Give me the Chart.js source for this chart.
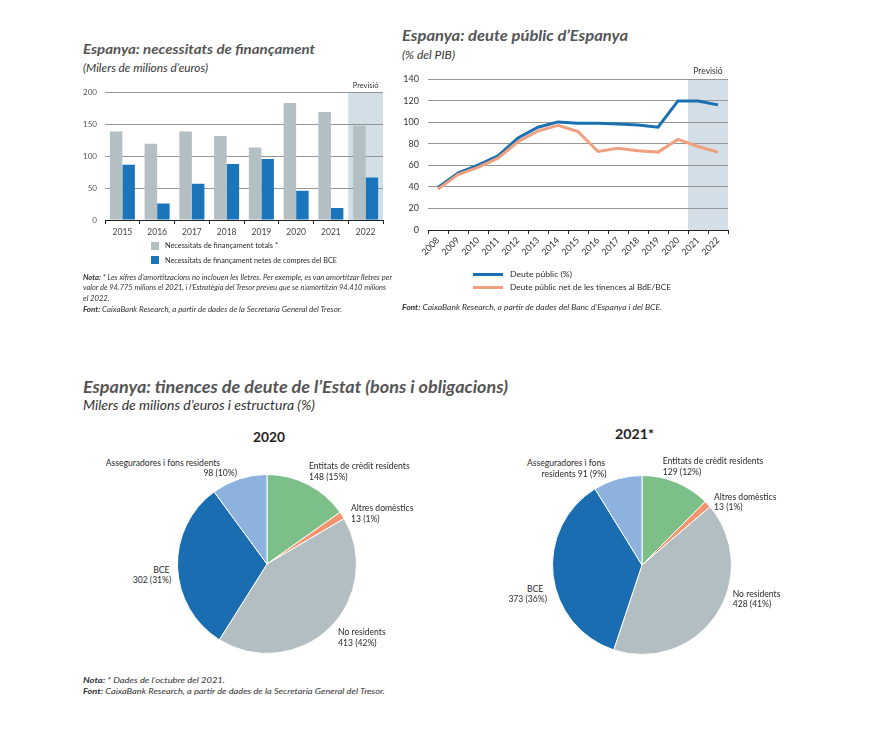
<!DOCTYPE html>
<html><head><meta charset="utf-8">
<script src="https://cdn.jsdelivr.net/npm/chart.js@4.4.0/dist/chart.umd.min.js"></script>
<style>
body{margin:0;background:#fff;width:872px;height:731px;position:relative;overflow:hidden;font-family:Lato,"Noto Sans",sans-serif;}
.a{position:absolute;white-space:nowrap;line-height:1;transform-origin:0 50%;}
.t{font-weight:bold;font-style:italic;color:#555;}
.s{font-style:italic;color:#333;}
.n{font-style:italic;font-size:7.6px;color:#333;}
.n b{font-weight:bold;}
.lab{font-size:8.6px;color:#2a2a2a;}
.pt{font-weight:bold;font-size:13px;color:#222;}
canvas{position:absolute;}
.sq{position:absolute;width:8px;height:8px;}
.ln{position:absolute;width:30px;height:3px;}
</style></head><body>

<!-- Chart 1 texts -->
<div class="a t" style="left:83px;top:42px;font-size:14px" data-w="232">Espanya: necessitats de finançament</div>
<div class="a s" style="left:83px;top:61.5px;font-size:11px" data-w="125">(Milers de milions d’euros)</div>
<canvas id="c1" width="330" height="165" style="left:60px;top:80px;width:330px;height:165px"></canvas>
<div class="sq" style="left:151px;top:242px;background:#b4bfc4"></div>
<div class="a lab" style="left:165px;top:242px;font-size:7.8px" data-w="113">Necessitats de finançament totals *</div>
<div class="sq" style="left:151px;top:256px;background:#1b75bb"></div>
<div class="a lab" style="left:165px;top:256.5px;font-size:7.8px" data-w="172">Necessitats de finançament netes de compres del BCE</div>
<div class="a n" style="left:83px;top:273.5px" data-w="309"><b>Nota:</b> * Les xifres d’amortitzacions no inclouen les lletres. Per exemple, es van amortitzar lletres per</div>
<div class="a n" style="left:83px;top:284px" data-w="303">valor de 94.775 milions el 2021, i l’Estratègia del Tresor preveu que se n’amortitzin 94.410 milions</div>
<div class="a n" style="left:83px;top:294.5px">el 2022.</div>
<div class="a n" style="left:83px;top:305.5px" data-w="259"><b>Font:</b> CaixaBank Research, a partir de dades de la Secretaria General del Tresor.</div>

<!-- Chart 2 texts -->
<div class="a t" style="left:402px;top:29px;font-size:14.5px" data-w="226">Espanya: deute públic d’Espanya</div>
<div class="a s" style="left:402px;top:49px;font-size:11px" data-w="53">(% del PIB)</div>
<canvas id="c2" width="345" height="200" style="left:390px;top:65px;width:345px;height:200px"></canvas>
<div class="ln" style="left:473px;top:272.5px;background:#1a70b0"></div>
<div class="a lab" style="left:510px;top:270px;font-size:8.4px" data-w="62">Deute públic (%)</div>
<div class="ln" style="left:473px;top:285.5px;background:#f0a07e"></div>
<div class="a lab" style="left:510px;top:283px;font-size:8.4px" data-w="161">Deute públic net de les tinences al BdE/BCE</div>
<div class="a n" style="left:402px;top:304px;font-size:7.8px" data-w="260"><b>Font:</b> CaixaBank Research, a partir de dades del Banc d’Espanya i del BCE.</div>

<!-- Pies texts -->
<div class="a t" style="left:83px;top:377.5px;font-size:17px" data-w="425">Espanya: tinences de deute de l’Estat (bons i obligacions)</div>
<div class="a s" style="left:83px;top:400px;font-size:12.5px" data-w="232">Milers de milions d’euros i estructura (%)</div>
<div class="a pt" style="left:253px;top:431px" data-w="32">2020</div>
<div class="a pt" style="left:615px;top:427.5px" data-w="39">2021*</div>
<canvas id="p1" width="180" height="180" style="left:177px;top:474px;width:180px;height:180px"></canvas>
<canvas id="p2" width="180" height="180" style="left:552px;top:475px;width:180px;height:180px"></canvas>
<div id="labels"></div>
<div class="a n" style="left:83px;top:676px;font-size:8.2px" data-w="142"><b>Nota:</b> * Dades de l’octubre del 2021.</div>
<div class="a n" style="left:83px;top:686.5px;font-size:8.2px" data-w="302"><b>Font:</b> CaixaBank Research, a partir de dades de la Secretaria General del Tresor.</div>

<script>
// ---------- Data ----------
const years1 = ['2015','2016','2017','2018','2019','2020','2021','2022'];
const totalNeeds = [139,120,139,132,114,184,170,148];
const netNeeds = [87,26,57,88,96,46,19,67];
const seriesNames1 = ['Necessitats de finançament totals *','Necessitats de finançament netes de compres del BCE'];

const years2 = ['2008','2009','2010','2011','2012','2013','2014','2015','2016','2017','2018','2019','2020','2021','2022'];
const grossDebt = [39.5,53,60.3,69,85.5,95.5,100.5,99.3,99.2,98.6,97.6,95.5,120,120,116.3];
const netDebt = [38,51.5,58.3,66.8,82,92,97.3,91.5,73,76,73.6,72.4,84.2,77.6,72.4];
const seriesNames2 = ['Deute públic (%)','Deute públic net de les tinences al BdE/BCE'];

const holders = ['Entitats de crèdit residents','Altres domèstics','No residents','BCE','Asseguradores i fons residents'];
const holdings2020 = [148,13,413,302,98];
const share2020 = [15,1,42,31,10];
const holdings2021 = [129,13,428,373,91];
const share2021 = [12,1,41,36,9];
const pieColors = ['#7cbf88','#f2956e','#b3bec3','#1b6db1','#8db2de'];

// ---------- Plugins ----------
const forecastBand = {
  id:'forecastBand',
  beforeDraw(chart, args, o){
    const {ctx, chartArea:{top,bottom,right}, scales:{x}} = chart;
    const n = chart.data.labels.length;
    const step = (x.right - x.left)/n;
    const left = x.getPixelForValue(o.fromIndex) - step/2;
    ctx.save();
    ctx.fillStyle = o.color;
    ctx.fillRect(left, top, right-left, bottom-top);
    ctx.fillStyle = '#333';
    ctx.font = o.font;
    ctx.textAlign = 'center';
    ctx.textBaseline = 'alphabetic';
    ctx.fillText(o.text, (left+right)/2, top - o.gap);
    ctx.restore();
  }
};
Chart.defaults.font.family = 'Lato, "Noto Sans", sans-serif';
Chart.defaults.animation = false;
Chart.defaults.plugins.legend.display = false;
Chart.defaults.plugins.tooltip.enabled = false;

// ---------- Chart 1 ----------
new Chart(document.getElementById('c1'), {
  type:'bar',
  data:{labels:years1, datasets:[
    {label:seriesNames1[0], data:totalNeeds, backgroundColor:'#b4bfc4', categoryPercentage:0.72, barPercentage:1},
    {label:seriesNames1[1], data:netNeeds, backgroundColor:'#1b75bb', categoryPercentage:0.72, barPercentage:1}
  ]},
  options:{
    responsive:false, devicePixelRatio:1,
    layout:{padding:{top:6,right:7,left:0,bottom:0}},
    plugins:{forecastBand:{fromIndex:7,color:'#d3dfe7',text:'Previsió',font:'7.5px Lato',gap:5}},
    scales:{
      x:{grid:{display:true,drawOnChartArea:false,drawTicks:true,tickLength:4,color:'#222',offset:true},
         border:{display:true,color:'#222',width:1},
         ticks:{color:'#444',font:{size:8.5},padding:3},
         afterFit(s){s.height=25;}},
      y:{min:0,max:200,ticks:{stepSize:50,color:'#555',font:{size:8},padding:8},
         grid:{color:'#8a8a8a',lineWidth:0.9,drawTicks:false},
         border:{display:false},
         afterFit(s){s.width=45;}}
    }
  },
  plugins:[forecastBand]
});

// ---------- Chart 2 ----------
new Chart(document.getElementById('c2'), {
  type:'line',
  data:{labels:years2, datasets:[
    {label:seriesNames2[0], data:grossDebt, borderColor:'#1a70b0', borderWidth:3, pointRadius:0, tension:0, order:2},
    {label:seriesNames2[1], data:netDebt, borderColor:'#f0a07e', borderWidth:3, pointRadius:0, tension:0, order:1}
  ]},
  options:{
    responsive:false, devicePixelRatio:1,
    layout:{padding:{top:9,right:7,left:0,bottom:0}},
    plugins:{forecastBand:{fromIndex:13,color:'#d3dee6',text:'Previsió',font:'8.5px Lato',gap:5}},
    scales:{
      x:{offset:true,
         grid:{display:true,drawOnChartArea:false,drawTicks:true,tickLength:4,color:'#222',offset:true},
         border:{display:true,color:'#222',width:1},
         ticks:{color:'#333',font:{size:9},minRotation:45,maxRotation:45,padding:1},
         afterFit(s){s.height=35;}},
      y:{min:0,max:140,ticks:{stepSize:20,color:'#333',font:{size:9},padding:9},
         grid:{color:'#969696',lineWidth:1,drawTicks:false},
         border:{display:false},
         afterFit(s){s.width=38;}}
    }
  },
  plugins:[forecastBand]
});

// ---------- Pies ----------
function pie(id, values){
  new Chart(document.getElementById(id), {
    type:'pie',
    data:{labels:holders, datasets:[{data:values, backgroundColor:pieColors, borderColor:'#fff', borderWidth:1, hoverOffset:0}]},
    options:{responsive:false, devicePixelRatio:1, layout:{padding:0}}
  });
}
pie('p1', holdings2020);
pie('p2', holdings2021);

// pie labels: [text, x, centerY, align]
const fmt = (v,p)=> v+' ('+p+'%)';
const pieLabels = [
  [holders[4], 220, 463.3, 'right'],
  [fmt(holdings2020[4],share2020[4]), 237, 474, 'right'],
  [holders[0], 309, 466.7, 'left'],
  [fmt(holdings2020[0],share2020[0]), 309, 477.7, 'left'],
  [holders[1], 351, 509, 'left'],
  [fmt(holdings2020[1],share2020[1]), 351, 520, 'left'],
  [holders[3], 153.3, 571, 'left'],
  [fmt(holdings2020[3],share2020[3]), 132.7, 580.5, 'left'],
  [holders[2], 338, 632.7, 'left'],
  [fmt(holdings2020[2],share2020[2]), 338, 644, 'left'],

  ['Asseguradores i fons', 605, 464, 'right'],
  ['residents '+fmt(holdings2021[4],share2021[4]), 606.5, 475, 'right'],
  [holders[0], 662.7, 461.7, 'left'],
  [fmt(holdings2021[0],share2021[0]), 662.7, 472.3, 'left'],
  [holders[1], 714, 497.3, 'left'],
  [fmt(holdings2021[1],share2021[1]), 714, 507.7, 'left'],
  [holders[3], 543.3, 590, 'right'],
  [fmt(holdings2021[3],share2021[3]), 547, 599.5, 'right'],
  [holders[2], 732.7, 594.3, 'left'],
  [fmt(holdings2021[2],share2021[2]), 732.7, 604.3, 'left']
];
const host = document.getElementById('labels');
pieLabels.forEach(([txt,x,cy,al])=>{
  const d = document.createElement('div');
  d.className='a lab';
  d.textContent = txt;
  d.style.top = (cy-4.6)+'px';
  if(al==='right'){ d.style.right = (872-x)+'px'; d.style.transformOrigin='100% 50%'; }
  else d.style.left = x+'px';
  host.appendChild(d);
});

// fit text widths
function fit(){
  document.querySelectorAll('[data-w]').forEach(el=>{
    el.style.transform = '';
    const w = el.getBoundingClientRect().width;
    const t = parseFloat(el.dataset.w);
    if(w>0) el.style.transform = 'scaleX('+(t/w)+')';
  });
}
if(document.fonts && document.fonts.ready) document.fonts.ready.then(fit);
fit();
</script>
</body></html>
